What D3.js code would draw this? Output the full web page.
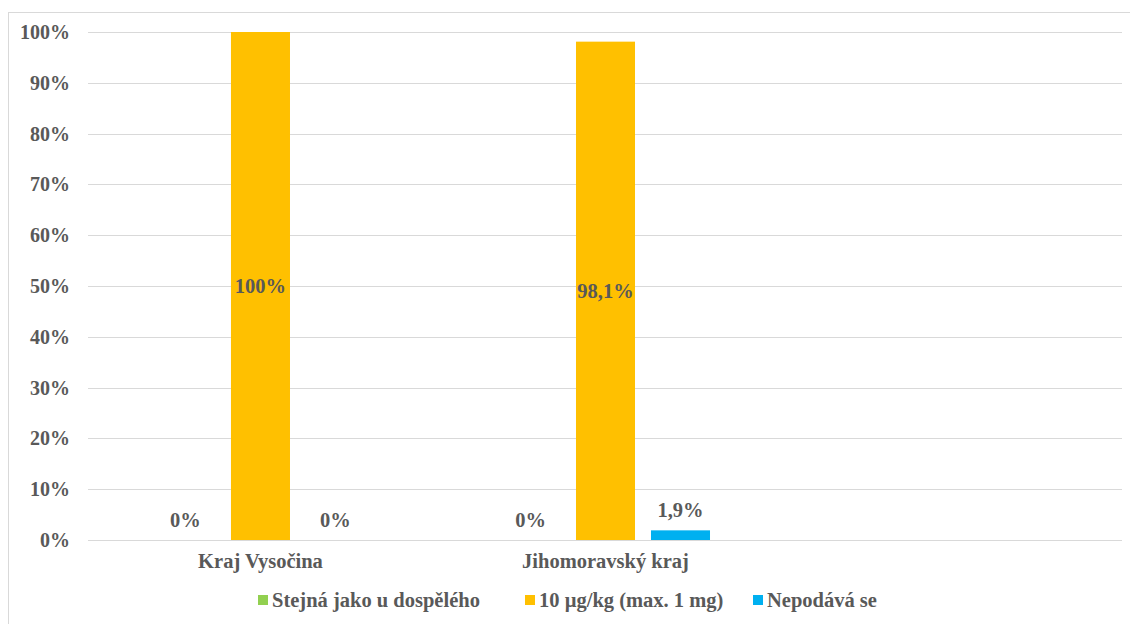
<!DOCTYPE html>
<html>
<head>
<meta charset="utf-8">
<script src="https://cdn.jsdelivr.net/npm/d3@7"></script>
<style>
  body { margin: 0; background: #fff; }
  svg text { font-family: "Liberation Serif", "DejaVu Serif", serif !important; font-weight: bold; fill: #595959; }
</style>
</head>
<body>
<script>
const categories = ['Kraj Vysočina', 'Jihomoravský kraj', ''];
const seriesNames = ['Stejná jako u dospělého', '10 µg/kg (max. 1 mg)', 'Nepodává se'];
const seriesColors = ['#92d050', '#ffc000', '#00b0f0'];
// values per series, in category order (null = no data)
const stejna = [0, 0, null];
const desetUg = [100, 98.1, null];
const nepodava = [0, 1.9, null];
const yTicks = [0, 10, 20, 30, 40, 50, 60, 70, 80, 90, 100];

const seriesValues = [stejna, desetUg, nepodava];
const W = 1130, H = 624;
const m = { left: 88, right: 1123, top: 32, bottom: 540 };

const svg = d3.select('body').append('svg')
  .attr('width', W).attr('height', H);

// chart frame
svg.append('rect')
  .attr('x', 8.5).attr('y', 12.5)
  .attr('width', 1130).attr('height', 620)
  .attr('fill', 'none').attr('stroke', '#d9d9d9');

const y = d3.scaleLinear().domain([0, 100]).range([m.bottom, m.top]);
const x0 = d3.scaleBand().domain(categories.map((c, i) => i))
  .range([m.left, m.right]).paddingInner(136 / 345).paddingOuter(0.197);
const x1 = d3.scaleBand().domain(d3.range(seriesNames.length))
  .range([0, x0.bandwidth()]).paddingInner(0.213);

// gridlines
svg.append('g').selectAll('line').data(yTicks).join('line')
  .attr('x1', m.left).attr('x2', 1122)
  .attr('y1', d => Math.round(y(d)) + 0.5).attr('y2', d => Math.round(y(d)) + 0.5)
  .attr('stroke', '#d9d9d9');

// y axis labels
const yAxis = svg.append('g')
  .attr('transform', `translate(${m.left},0)`)
  .call(d3.axisLeft(y).tickValues(yTicks).tickFormat(d => d + '%').tickSize(0).tickPadding(18));
yAxis.select('.domain').remove();
yAxis.selectAll('text').style('font-size', '20px');

// category axis
const xAxis = svg.append('g')
  .attr('transform', `translate(0,${m.bottom})`)
  .call(d3.axisBottom(x0).tickFormat(i => categories[i]).tickSize(0).tickPadding(13));
xAxis.select('.domain').remove();
xAxis.selectAll('text').style('font-size', '20.5px');

// bars
const flat = [];
categories.forEach((c, ci) => {
  seriesValues.forEach((vals, si) => {
    if (vals[ci] !== null) flat.push({ ci, si, v: vals[ci] });
  });
});

const g = svg.append('g');
g.selectAll('rect').data(flat).join('rect')
  .attr('x', d => x0(d.ci) + x1(d.si))
  .attr('width', x1.bandwidth())
  .attr('y', d => y(d.v))
  .attr('height', d => y(0) - y(d.v))
  .attr('fill', d => seriesColors[d.si]);

// data labels
const fmt = v => (Number.isInteger(v) ? v : String(v).replace('.', ',')) + '%';
g.selectAll('text').data(flat).join('text')
  .attr('x', d => x0(d.ci) + x1(d.si) + x1.bandwidth() / 2)
  .attr('y', d => d.si === 1 ? (y(d.v) + y(0)) / 2 + 7 : y(d.v) - 13)
  .attr('text-anchor', 'middle')
  .style('font-size', '20.5px')
  .text(d => fmt(d.v));

// legend
const legendX = [258, 525, 753];
const lg = svg.append('g').attr('transform', 'translate(0,603)');
const items = lg.selectAll('g').data(seriesNames).join('g')
  .attr('transform', (d, i) => `translate(${legendX[i]},0)`);
items.append('rect').attr('x', 0).attr('y', -8).attr('width', 10).attr('height', 10)
  .attr('fill', (d, i) => seriesColors[i]);
items.append('text').attr('x', 14).attr('y', 4).style('font-size', '20.5px').text(d => d);
</script>
</body>
</html>
